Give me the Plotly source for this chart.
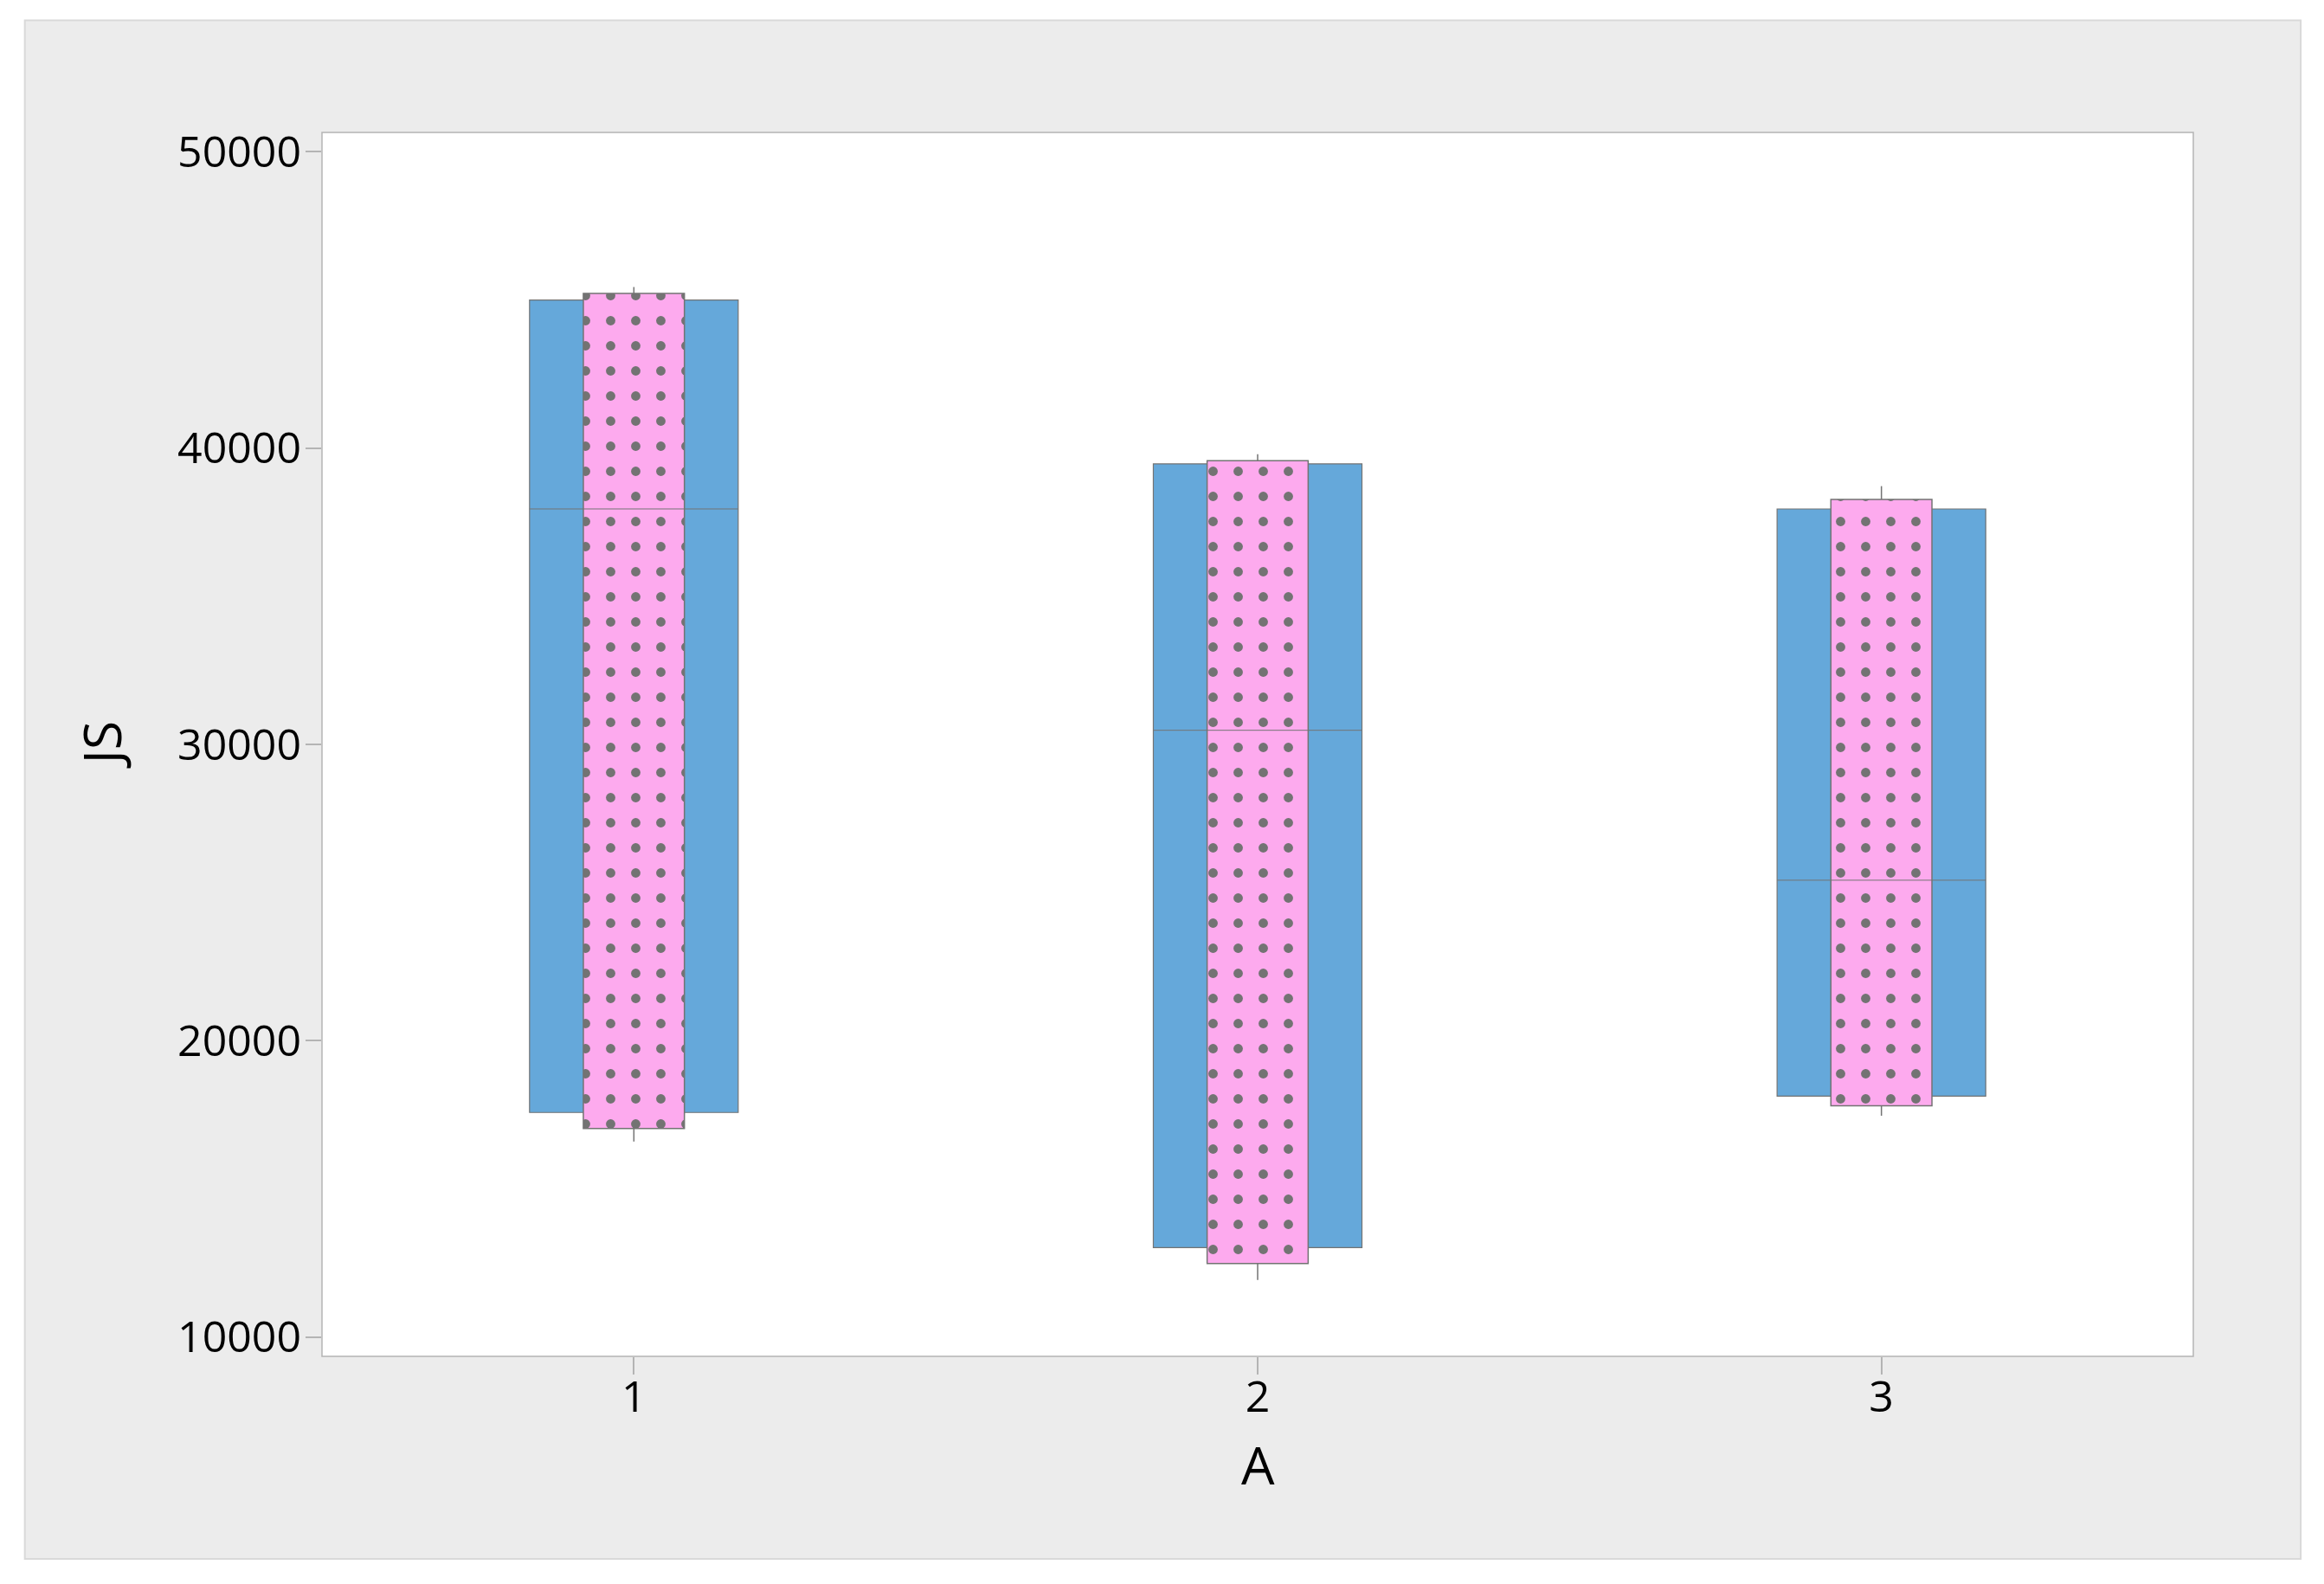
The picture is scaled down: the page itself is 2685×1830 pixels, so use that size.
import plotly.graph_objects as go

# ---- data ----
groups = [1, 2, 3]
range_low = [17580, 13020, 18130]      # blue bar bottom
range_high = [45000, 39470, 37950]     # blue bar top
medians = [37950, 30480, 25420]        # line across blue bar
ci_low = [17040, 12480, 17810]         # pink bar bottom
ci_high = [45220, 39580, 38270]        # pink bar top
whisk_low = [16600, 11930, 17470]
whisk_high = [45440, 39800, 38720]
y_ticks = [10000, 20000, 30000, 40000, 50000]
x_ticks = [1, 2, 3]

BLUE = "#65A8DA"
PINK = "#FDAAEE"
EDGE = "#737373"
AXIS = "#B4B4B4"
FONT = "Open Sans"
W_BLUE = 0.3345
W_PINK = 0.162

fig = go.Figure()

fig.add_trace(go.Bar(
    x=groups,
    base=range_low,
    y=[h - l for h, l in zip(range_high, range_low)],
    width=W_BLUE,
    marker=dict(color=BLUE, line=dict(color=EDGE, width=1.2)),
    hoverinfo="skip",
))

fig.add_trace(go.Bar(
    x=groups,
    base=ci_low,
    y=[h - l for h, l in zip(ci_high, ci_low)],
    width=W_PINK,
    marker=dict(color=PINK, line=dict(color=EDGE, width=1.5),
                pattern=dict(shape=".", fgcolor=EDGE, bgcolor=PINK,
                             size=29, solidity=0.11, fillmode="replace")),
    hoverinfo="skip",
))

# median lines across blue bars
mx, my = [], []
for g, m in zip(groups, medians):
    mx += [g - W_BLUE / 2, g + W_BLUE / 2, None]
    my += [m, m, None]
fig.add_trace(go.Scatter(x=mx, y=my, mode="lines",
                         line=dict(color=EDGE, width=1), hoverinfo="skip"))

# whiskers
wx, wy = [], []
for g, cl, ch, wl, wh in zip(groups, ci_low, ci_high, whisk_low, whisk_high):
    wx += [g, g, None, g, g, None]
    wy += [ch, wh, None, cl, wl, None]
fig.add_trace(go.Scatter(x=wx, y=wy, mode="lines",
                         line=dict(color=EDGE, width=1.5), hoverinfo="skip"))

fig.update_layout(
    width=2685, height=1830,
    margin=dict(l=364, r=159, t=145, b=271),
    paper_bgcolor="white",
    plot_bgcolor="white",
    barmode="overlay",
    showlegend=False,
    font=dict(family=FONT, color="black", size=50),
    shapes=[
        dict(type="rect", xref="paper", yref="paper",
             x0=-0.1588, x1=1.0574, y0=-0.1655, y1=1.0916,
             fillcolor="#ECECEC", line=dict(color="#D9D9D9", width=2), layer="below"),
        dict(type="rect", xref="paper", yref="paper",
             x0=0, x1=1, y0=0, y1=1,
             fillcolor="white", line=dict(color=AXIS, width=1.5), layer="below"),
    ],
    annotations=[
        dict(text="JS", xref="paper", yref="paper", x=-0.1186, y=0.5,
             textangle=-90, showarrow=False, font=dict(size=61, family=FONT),
             xanchor="center", yanchor="middle"),
        dict(text="A", xref="x", yref="paper", x=2, y=-0.088,
             showarrow=False, font=dict(size=61, family=FONT),
             xanchor="center", yanchor="middle"),
    ],
)

fig.update_xaxes(range=[0.5, 3.5], tickvals=x_ticks, ticktext=[str(t) for t in x_ticks],
                 ticks="outside", ticklen=20, tickcolor=AXIS, tickwidth=1.5,
                 ticklabelstandoff=-17,
                 showgrid=False, zeroline=False, showline=False,
                 tickfont=dict(size=50, family=FONT, color="black"))
fig.update_yaxes(range=[9350, 50657], tickvals=y_ticks, ticktext=[str(t) for t in y_ticks],
                 ticks="outside", ticklen=18, tickcolor=AXIS, tickwidth=1.5,
                 ticklabelstandoff=-5,
                 showgrid=False, zeroline=False, showline=False,
                 tickfont=dict(size=50, family=FONT, color="black"))

fig.write_html("out.html")
